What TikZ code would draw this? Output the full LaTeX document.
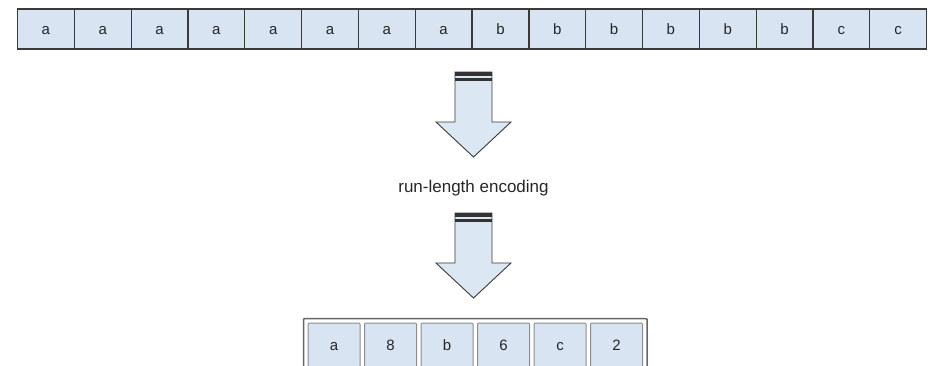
\documentclass[tikz,border=0pt]{standalone}
\usepackage{fontspec}
\setmainfont{Liberation Sans}
\usetikzlibrary{fit}

\definecolor{cellblue}{HTML}{D8E4F2}
\definecolor{arrowblue}{HTML}{DCE7F4}
\definecolor{cellline}{HTML}{3A3A3A}
\definecolor{outline}{HTML}{8C8C8C}
\definecolor{frameline}{HTML}{666666}

\begin{document}
\begin{tikzpicture}[
            x=1pt, y=-1pt,
            every node/.style={font=\fontsize{15}{18}\selectfont, text=black!85},
            cell/.style={rectangle, draw=cellline, fill=cellblue, line width=1.2pt, minimum width=56.8pt, minimum height=40pt, inner sep=0pt, outer sep=0pt, text height=11pt, text depth=0pt},
            outcell/.style={rectangle, rounded corners=1pt, draw=outline, fill=cellblue, line width=1pt, minimum width=52pt, minimum height=44pt, inner sep=0pt, text height=11pt, text depth=0pt},
            frame/.style={rectangle, draw=frameline, line width=1.5pt, rounded corners=1pt, inner sep=4pt},
            blockarrow/.style={draw=cellline, fill=arrowblue, line width=0.9pt, line join=miter},
            stripe/.style={fill=black!80},
            lbl/.style={font=\fontsize{17}{20}\selectfont}
        ]

        \clip (0,0) rectangle (935,365);

        % Input string
        \node[cell] (in1) at (45.9,29) {a};
        \node[cell] (in2) at (102.7,29) {a};
        \node[cell] (in3) at (159.5,29) {a};
        \node[cell] (in4) at (216.4,29) {a};
        \node[cell] (in5) at (273.2,29) {a};
        \node[cell] (in6) at (330.0,29) {a};
        \node[cell] (in7) at (386.8,29) {a};
        \node[cell] (in8) at (443.6,29) {a};
        \node[cell] (in9) at (500.5,29) {b};
        \node[cell] (in10) at (557.3,29) {b};
        \node[cell] (in11) at (614.1,29) {b};
        \node[cell] (in12) at (670.9,29) {b};
        \node[cell] (in13) at (727.7,29) {b};
        \node[cell] (in14) at (784.6,29) {b};
        \node[cell] (in15) at (841.4,29) {c};
        \node[cell] (in16) at (898.2,29) {c};

        % Label between the two arrows
        \node[lbl] (rle) at (473.5,188) {run-length encoding};

        % Encoded output
        \node[outcell] (out1) at (334.0,345) {a};
        \node[outcell] (out2) at (390.5,345) {8};
        \node[outcell] (out3) at (447.0,345) {b};
        \node[outcell] (out4) at (503.5,345) {6};
        \node[outcell] (out5) at (560.0,345) {c};
        \node[outcell] (out6) at (616.5,345) {2};
        \node[frame, fit=(out1)(out6)] (outbox) {};

        % === Block arrows ===
        \coordinate (arrtop) at (473.5,72);
        \coordinate (arrbot) at (473.5,213);

        \draw[blockarrow] (arrtop) ++(-18.5,0) -- ++(0,50) -- ++(-19,0) -- ++(37.5,35) -- ++(37.5,-35) -- ++(-19,0) -- ++(0,-50) -- cycle;
        \fill[stripe] (arrtop) ++(-18.5,0) rectangle ++(37,4);
        \fill[stripe] (arrtop) ++(-18.5,6) rectangle ++(37,2.5);

        \draw[blockarrow] (arrbot) ++(-18.5,0) -- ++(0,50) -- ++(-19,0) -- ++(37.5,35) -- ++(37.5,-35) -- ++(-19,0) -- ++(0,-50) -- cycle;
        \fill[stripe] (arrbot) ++(-18.5,0) rectangle ++(37,4);
        \fill[stripe] (arrbot) ++(-18.5,6) rectangle ++(37,2.5);

    \end{tikzpicture}
\end{document}
